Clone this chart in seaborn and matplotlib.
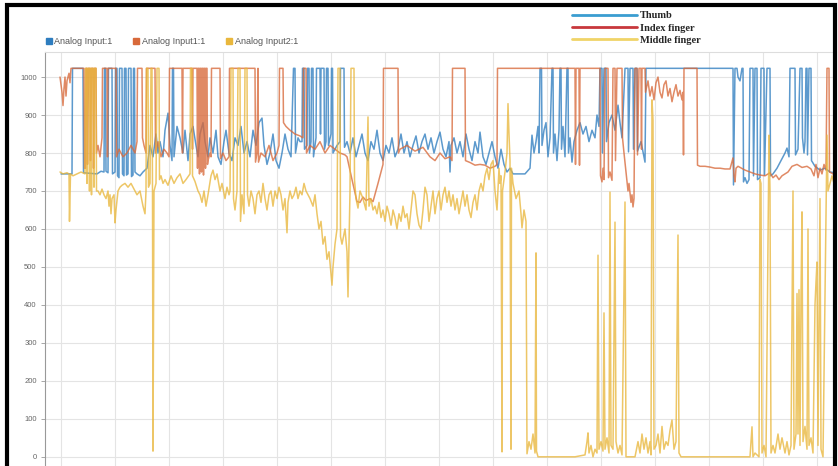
import matplotlib
matplotlib.use("Agg")
import matplotlib.pyplot as plt
import seaborn as sns
import numpy as np
from matplotlib.lines import Line2D
from matplotlib.patches import Rectangle

# sample index vs analog reading (0..1023)
thumb_n = [16, 27, 27.5, 38, 38.5, 52, 56, 59, 59.5, 60.5, 61, 63, 63.5, 67, 67.5, 70, 70.5, 72, 72.5, 74,
           74.5, 77, 77.5, 79, 79.5, 81, 81.5, 83, 83.5, 86, 86.5, 88, 88.5, 89.5, 90, 92, 95, 98, 102, 105,
           108, 111, 113, 115, 118, 120, 123, 125, 127, 127.5, 128.5, 129, 132, 135, 138, 140, 143, 145, 148, 151,
           153, 155, 158, 160, 163, 165, 168, 171, 173, 176, 179, 181, 184, 187, 190, 193, 196, 199, 202, 205,
           208, 211, 214, 217, 219, 222, 225, 228, 231, 234, 237, 240, 243, 246, 248.5, 250, 250.5, 253, 255, 257,
           257.5, 259, 259.5, 262, 262.5, 264, 264.5, 266, 266.5, 268, 268.5, 271, 271.5, 275, 275.5, 276, 279, 279.5, 281, 281.5,
           283, 283.5, 286, 286.5, 287.5, 288, 292, 295, 295.5, 299, 299.5, 302, 305, 308, 311, 314, 317, 320, 323, 326,
           329, 332, 335, 338, 341, 344, 347, 350, 353, 356, 359, 362, 365, 368, 371, 374, 377, 380, 383, 386,
           389, 392, 395, 398, 401, 404, 405, 406, 409, 412, 415, 418, 421, 424, 427, 430, 433, 435, 438, 441,
           444, 447, 450, 453, 456, 459, 462, 465, 468, 472, 476, 480, 485, 487, 489, 491, 493, 494, 495, 496.5,
           497, 499, 501, 503, 505, 507, 508, 508.5, 510, 512, 514, 515, 516, 516.5, 518, 520, 522, 523, 523.5, 525,
           527, 529, 532, 535, 538, 541, 544, 547, 550, 552, 554, 555, 557, 557.5, 559, 561, 561.5, 564, 567, 570,
           573, 575, 577, 580, 583, 583.5, 585, 588, 588.5, 590, 592, 592.5, 596, 600, 601, 688, 688.5, 690, 692, 693,
           695, 697, 698, 698.5, 700, 702, 704, 705, 708, 708.5, 710, 712, 712.5, 715, 716, 719, 719.5, 722, 725, 725.5,
           728, 732, 736, 740, 742, 744, 745, 750, 750.5, 753, 755, 757, 757.5, 759, 760, 761, 762, 762.5, 764, 766,
           766.5, 770, 775, 780, 785, 790]
thumb_v = [745, 745, 1023, 1023, 748, 745, 752, 750, 1023, 1023, 752, 748, 1023, 1023, 745, 750, 1023, 1023, 740, 735,
           1023, 1023, 745, 740, 1023, 1023, 742, 745, 1023, 1023, 738, 742, 1023, 1023, 750, 745, 740, 750, 760, 820,
           790, 850, 800, 830, 790, 860, 905, 820, 780, 1023, 1023, 790, 870, 840, 800, 860, 780, 850, 870, 820,
           790, 850, 880, 830, 790, 840, 800, 860, 790, 770, 830, 860, 800, 780, 840, 820, 870, 800, 830, 790,
           860, 820, 880, 892, 820, 770, 800, 850, 780, 760, 800, 850, 810, 790, 1023, 1023, 800, 840, 830, 830,
           1023, 1023, 810, 820, 1023, 1023, 800, 830, 1023, 1023, 790, 840, 1023, 1023, 850, 1023, 1023, 810, 830, 1023,
           1023, 820, 850, 1023, 1023, 800, 820, 830, 1023, 1023, 815, 830, 800, 840, 790, 820, 850, 800, 780, 830,
           810, 860, 800, 780, 820, 800, 840, 790, 810, 850, 800, 830, 790, 820, 845, 800, 830, 850, 810, 840,
           800, 830, 855, 810, 790, 830, 750, 820, 840, 800, 830, 790, 850, 810, 780, 830, 800, 855, 790, 770,
           800, 830, 790, 760, 810, 770, 750, 760, 745, 745, 745, 745, 760, 847, 800, 830, 870, 800, 1023, 1023,
           820, 860, 880, 790, 840, 1023, 1023, 800, 850, 780, 860, 1023, 1023, 810, 870, 790, 1023, 1023, 800, 840,
           776, 830, 860, 880, 850, 870, 830, 860, 840, 900, 870, 1023, 1023, 800, 1023, 1023, 830, 880, 900, 860,
           926, 880, 840, 1023, 1023, 803, 1023, 1023, 810, 1023, 1023, 805, 830, 776, 1023, 1023, 716, 1023, 1023, 1000,
           990, 1023, 1023, 724, 735, 720, 730, 1023, 1023, 740, 1023, 1023, 730, 735, 1023, 1023, 742, 1023, 1023, 740,
           745, 760, 780, 800, 813, 790, 1023, 1023, 795, 810, 1023, 1023, 840, 800, 830, 1023, 1023, 795, 1023, 1023,
           780, 765, 755, 760, 750, 748]

index_n = [15, 17, 18, 19, 20, 21, 22, 24, 25, 26, 39, 39.5, 40.5, 41, 42, 42.5, 43.5, 45, 45.5, 46.5,
           48, 48.5, 49.5, 51, 51.5, 53, 55, 57, 57.5, 62, 62.5, 63, 71, 71.5, 74, 78, 82, 86, 90, 92,
           92.5, 97, 97.5, 99, 101, 101.5, 110, 110.5, 113, 116, 119, 122, 124, 124.5, 137, 137.5, 138, 147, 147.5, 148,
           152, 152.5, 153, 154, 154.5, 155, 156, 156.5, 157, 158, 158.5, 159, 160, 160.5, 161, 162, 162.5, 163, 165, 166,
           166.5, 175, 175.5, 178, 181, 184, 184.5, 210, 210.5, 212, 213, 213.5, 216, 220, 224, 228, 232, 234, 234.5, 238,
           238.5, 241, 245, 250, 255, 258, 258.5, 261, 261.5, 265, 270, 275, 280, 285, 290, 295, 300, 302, 307, 312,
           315, 318, 321, 325, 328, 333, 338, 338.5, 353, 353.5, 355, 362, 370, 378, 385, 390, 395, 400, 405, 407,
           407.5, 420, 420.5, 425, 430, 435, 440, 445, 450, 452, 452.5, 530, 530.5, 531, 534, 534.5, 535, 555, 555.5,
           557, 558, 559, 560, 563, 563.5, 565, 567, 568, 570, 570.5, 572, 577, 577.5, 579, 581, 583, 584, 586, 587,
           588, 589, 590, 592, 592.5, 594, 596, 596.5, 597, 600, 600.5, 603, 605, 607, 609, 611, 613, 615, 617, 619,
           621, 623, 625, 627, 629, 631, 633, 635, 637, 638, 638.5, 639, 652, 652.5, 655, 660, 665, 670, 675, 680,
           685, 688, 689, 690, 691, 693, 700, 705, 710, 715, 720, 725, 728, 731, 734, 737, 740, 743, 747, 752,
           757, 762, 766, 769, 771, 773, 775, 777, 779, 781, 782, 784, 784.5, 788, 791]
index_v = [1000, 960, 925, 970, 1000, 950, 990, 1010, 985, 1023, 1023, 760, 760, 1023, 1023, 770, 1023, 1023, 780, 1023,
           1023, 760, 1023, 1023, 800, 820, 790, 840, 1023, 1023, 790, 1023, 1023, 790, 810, 790, 800, 820, 800, 830,
           1023, 1023, 840, 820, 800, 1023, 1023, 800, 830, 790, 810, 800, 790, 1023, 1023, 800, 1023, 1023, 810, 1023,
           1023, 760, 1023, 1023, 745, 1023, 1023, 750, 1023, 1023, 742, 1023, 1023, 760, 1023, 1023, 770, 780, 800, 790,
           1023, 1023, 785, 800, 780, 790, 1023, 1023, 776, 800, 1023, 776, 800, 790, 820, 780, 800, 820, 1023, 1023,
           880, 870, 860, 850, 845, 840, 1023, 1023, 800, 820, 810, 830, 800, 820, 810, 800, 795, 790, 730, 672,
           670, 684, 675, 680, 672, 720, 770, 1023, 1023, 800, 810, 820, 805, 815, 790, 780, 800, 785, 790, 780,
           1023, 1023, 780, 775, 768, 770, 768, 760, 765, 770, 1023, 1023, 770, 1023, 1023, 768, 1023, 1023, 740,
           724, 760, 730, 1023, 1023, 735, 750, 728, 1023, 1023, 780, 1023, 1023, 840, 800, 750, 700, 720, 670, 690,
           658, 680, 1023, 1023, 795, 1023, 1023, 810, 1023, 1023, 960, 990, 950, 975, 940, 985, 1000, 960, 945, 980,
           990, 950, 970, 935, 960, 980, 950, 965, 940, 960, 795, 1023, 1023, 768, 765, 765, 763, 760, 760, 758,
           758, 787, 740, 724, 760, 765, 755, 750, 745, 742, 740, 748, 735, 742, 730, 740, 745, 750, 765, 770,
           762, 765, 758, 740, 770, 735, 760, 745, 770, 755, 1023, 1023, 750, 745, 742]

middle_n = [15, 18, 22, 24, 24.5, 25.5, 28, 32, 36, 40, 40.5, 41.5, 42, 42.5, 44, 44.5, 45, 46, 46.5, 47,
            48.5, 49, 49.5, 51, 51.5, 53, 55, 57, 59, 61, 63, 64, 65, 66, 67, 69, 70, 71, 73, 75,
            77, 80, 83, 86, 89, 92, 95, 98, 100, 101, 101.5, 103, 103.5, 105, 106, 107, 107.5, 108, 109, 111,
            112, 114, 114.5, 116, 118, 120, 123, 126, 129, 132, 135, 138, 141, 145, 145.5, 147, 147.5, 150, 153, 155,
            157, 159, 161, 163, 166, 168, 170, 172, 175, 177, 180, 182, 184, 185, 186, 188, 188.5, 190, 192, 193,
            195, 195.5, 197, 199, 200, 202, 202.5, 204, 206, 208, 210, 212, 214, 216, 218, 220, 222, 224, 226, 228,
            230, 232, 234, 236, 238, 240, 242, 243, 245, 247, 249, 251, 253, 255, 257, 259, 261, 263, 265, 268,
            270, 272, 274, 276, 278, 280, 282, 284, 286, 287, 288, 290, 292, 293, 295, 295.5, 297, 300, 302, 303,
            304, 305, 306, 309, 309.5, 311, 313, 315, 318, 321, 323, 324, 326, 328, 330, 332, 334, 336, 338, 340,
            342, 344, 346, 348, 350, 352, 354, 356, 358, 360, 362, 364, 366, 368, 370, 372, 374, 376, 378, 380,
            382, 384, 386, 388, 390, 392, 394, 396, 398, 400, 402, 404, 406, 408, 410, 412, 414, 416, 418, 420,
            422, 424, 426, 428, 430, 432, 434, 436, 438, 440, 442, 444, 446, 448, 450, 452, 454, 455, 456, 457,
            457.5, 460, 462, 463, 464, 465, 466, 466.5, 468, 471, 474, 476, 477, 479, 481, 482, 484, 486, 488, 490,
            491, 491.5, 493, 500, 510, 520, 530, 540, 542, 543, 544, 546, 548, 550, 552, 553, 554, 556, 558, 559,
            560, 562, 564, 565, 566, 568, 570, 571, 573, 575, 577, 580, 581, 590, 593, 595, 597, 599, 601, 603,
            605, 606, 607, 608, 609, 611, 613, 615, 617, 619, 621, 623, 625, 627, 629, 631, 633, 634, 636, 660,
            680, 700, 705, 707, 708, 710, 714, 715, 716, 717, 719, 721, 724, 725, 726, 728, 730, 733, 735, 737,
            740, 742, 744, 746, 748, 749, 751, 752, 753, 754, 755, 756, 757, 758, 760, 762, 763, 764, 766, 768,
            770, 771, 772, 773, 775, 776, 778, 782, 783, 785, 787, 789, 791]
middle_v = [750, 745, 748, 745, 620, 745, 740, 745, 750, 745, 1023, 1023, 720, 1023, 1023, 700, 1023, 1023, 690, 1023,
            1023, 710, 1023, 1023, 700, 700, 690, 705, 690, 680, 700, 660, 690, 640, 680, 690, 616, 650, 700, 710,
            715, 720, 710, 720, 705, 690, 700, 660, 640, 700, 1023, 1023, 710, 720, 1023, 1023, 700, 15, 700, 720,
            1023, 1023, 730, 740, 720, 730, 715, 740, 720, 735, 745, 720, 730, 745, 1023, 1023, 740, 725, 700, 690,
            670, 700, 660, 690, 740, 755, 730, 745, 700, 720, 680, 710, 690, 700, 1023, 1023, 680, 650, 700, 1023,
            1023, 620, 690, 640, 1023, 1023, 690, 660, 700, 680, 640, 690, 700, 670, 720, 680, 650, 690, 700, 660,
            700, 680, 710, 690, 650, 680, 590, 670, 700, 680, 690, 710, 680, 700, 690, 720, 700, 690, 680, 660,
            690, 640, 600, 620, 560, 580, 520, 540, 480, 452, 500, 560, 600, 1023, 1023, 580, 560, 600, 540, 421,
            560, 700, 1023, 1023, 730, 680, 655, 700, 680, 650, 895, 660, 680, 650, 660, 640, 670, 630, 650, 620,
            660, 640, 610, 650, 630, 600, 640, 620, 660, 630, 640, 600, 650, 700, 690, 640, 610, 600, 650, 710,
            690, 620, 660, 700, 640, 680, 700, 650, 690, 710, 670, 700, 660, 690, 650, 680, 640, 670, 700, 660,
            690, 650, 630, 670, 690, 650, 700, 720, 700, 740, 760, 730, 770, 780, 700, 650, 760, 720, 740, 13,
            700, 750, 800, 930, 850, 780, 20, 760, 720, 680, 700, 640, 603, 650, 620, 8, 40, 20, 60, 10,
            537, 15, 0, 0, 0, 0, 0, 5, 40, 63, 10, 30, 0, 20, 10, 531, 20, 40, 15, 379,
            20, 50, 10, 697, 30, 20, 618, 40, 10, 30, 5, 671, 0, 0, 40, 10, 60, 20, 50, 10,
            40, 5, 940, 887, 20, 30, 60, 10, 80, 20, 40, 30, 70, 97, 20, 40, 584, 10, 0, 0,
            0, 0, 0, 79, 0, 10, 0, 730, 720, 10, 30, 0, 847, 700, 10, 30, 10, 60, 20, 50,
            10, 40, 5, 30, 700, 20, 60, 430, 60, 440, 30, 420, 645, 40, 80, 20, 600, 30, 50, 10,
            400, 460, 513, 30, 680, 20, 0, 847, 700, 720, 740, 720, 745]

series_names = ["Analog Input:1", "Analog Input1:1", "Analog Input2:1"]
finger_names = ["Thumb", "Index finger", "Middle finger"]
y_ticks = list(range(0, 1001, 100))

colors = ["#2e7dbf", "#d8693a", "#e9b73c"]
finger_colors = ["#3a9dd0", "#c8383c", "#f0d468"]

sns.set_theme(style="whitegrid")
plt.rcParams["font.family"] = ["Liberation Sans", "DejaVu Sans"]

fig = plt.figure(figsize=(8.38, 4.66), dpi=100)
ax = fig.add_axes([45 / 838, -6 / 466, 791 / 838, 420 / 466])

for n, v, c in zip([thumb_n, index_n, middle_n], [thumb_v, index_v, middle_v], colors):
    sns.lineplot(x=n, y=v, ax=ax, color=c, lw=1.1, alpha=0.78,
                 estimator=None, sort=False, legend=False)

ax.set_xlim(0, 791)
ax.set_ylim(-40, 1066)
ax.set_xticks(np.arange(16, 792, 54))
ax.set_xticklabels([])
ax.set_yticks(y_ticks)
ax.set_yticklabels([str(t) for t in y_ticks])
ax.tick_params(axis="x", length=0)
ax.tick_params(axis="y", length=3, width=0.6, color="#999999", labelsize=5.5,
               labelcolor="#666666", pad=3, left=True)
ax.grid(True, color="#e4e4e4", lw=0.8)
ax.set_xlabel("")
ax.set_ylabel("")
ax.set_facecolor("white")
for side in ["right", "bottom"]:
    ax.spines[side].set_visible(False)
ax.spines["left"].set_color("#999999")
ax.spines["left"].set_linewidth(0.8)
ax.spines["top"].set_color("#dddddd")
ax.spines["top"].set_linewidth(0.8)

# series legend (top-left)
sq = [Line2D([], [], marker="s", ls="", color=c, markersize=4) for c in colors]
lg1 = fig.legend(sq, series_names, loc="center left", bbox_to_anchor=(45 / 838, 1 - 42 / 466),
                 ncol=3, frameon=False, fontsize=6.5, handletextpad=0.25, columnspacing=2.2,
                 borderaxespad=0, borderpad=0, handlelength=0.8)
for t in lg1.get_texts():
    t.set_color("#555555")

# finger legend (top-right)
ln = [Line2D([], [], color=c, lw=2.0) for c in finger_colors]
lg2 = fig.legend(ln, finger_names, loc="upper left", bbox_to_anchor=(572 / 838, 1 - 11 / 466),
                 frameon=False, prop={"family": "Liberation Serif", "weight": "bold", "size": 7.5},
                 handlelength=6.2, labelspacing=0.3, handletextpad=0.3, borderpad=0, borderaxespad=0)

# black frame around the picture
fig.patches.append(Rectangle((7 / 838, -0.1), 828 / 838, 1.1 - 5 / 466, transform=fig.transFigure,
                             fill=False, ec="black", lw=3))

fig.savefig("out.png", dpi=100)
